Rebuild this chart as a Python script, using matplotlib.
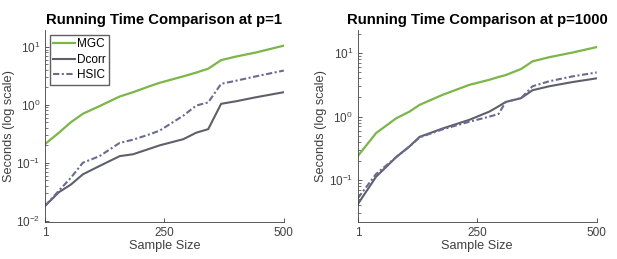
import matplotlib.pyplot as plt

plt.rcParams['font.family'] = ['Liberation Sans', 'DejaVu Sans']

# p=1 data
n1 = [1, 30, 55, 80, 115, 157, 185, 220, 241, 290, 317, 342, 369, 400, 442, 500]
mgc1 = [0.21, 0.33, 0.5, 0.7, 0.95, 1.39, 1.65, 2.1, 2.4, 3.1, 3.6, 4.2, 5.9, 6.8, 8.0, 10.5]
dcorr1 = [0.018, 0.031, 0.042, 0.063, 0.088, 0.13, 0.14, 0.175, 0.2, 0.255, 0.33, 0.38, 1.04, 1.15, 1.35, 1.65]
hsic1 = [0.018, 0.033, 0.055, 0.1, 0.13, 0.22, 0.25, 0.31, 0.36, 0.65, 0.97, 1.1, 2.3, 2.6, 3.1, 3.9]

# p=1000 data
n2 = [1, 39, 81, 109, 130, 178, 234, 276, 295, 310, 342, 366, 401, 450, 500]
mgc2 = [0.24, 0.55, 0.94, 1.2, 1.53, 2.2, 3.16, 3.8, 4.2, 4.5, 5.6, 7.4, 8.6, 10.2, 12.4]
dcorr2 = [0.042, 0.113, 0.23, 0.34, 0.48, 0.65, 0.89, 1.2, 1.45, 1.7, 1.95, 2.6, 3.0, 3.5, 4.0]
hsic2 = [0.052, 0.125, 0.23, 0.34, 0.47, 0.63, 0.83, 1.0, 1.1, 1.7, 1.95, 3.0, 3.6, 4.3, 4.95]

titles = ['Running Time Comparison at p=1', 'Running Time Comparison at p=1000']
ylims = [(0.0095, 19.5), (0.022, 23)]

fig = plt.figure(figsize=(6.17, 2.59), dpi=100)
ax1 = fig.add_axes([0.073, 0.143, 0.387, 0.741])
ax2 = fig.add_axes([0.580, 0.143, 0.387, 0.741])

green = '#7ab648'
gray = '#5f5f6a'
slate = '#6b6b92'

for ax, n, m, d, h, t, yl in [(ax1, n1, mgc1, dcorr1, hsic1, titles[0], ylims[0]),
                              (ax2, n2, mgc2, dcorr2, hsic2, titles[1], ylims[1])]:
    ax.plot(n, m, color=green, lw=1.6, label='MGC')
    ax.plot(n, d, color=gray, lw=1.5, label='Dcorr')
    ax.plot(n, h, color=slate, lw=1.5, ls=(0, (3, 1.2, 1, 1.2)), label='HSIC')
    ax.set_yscale('log')
    ax.set_xlim(1, 500)
    ax.set_ylim(*yl)
    ax.set_xticks([1, 250, 500])
    ax.set_title(t, fontsize=10.7, fontweight='bold', pad=4)
    ax.set_xlabel('Sample Size', fontsize=9.2, color='#404040', labelpad=1)
    ax.set_ylabel('Seconds (log scale)', fontsize=9.2, color='#404040', labelpad=1)
    ax.spines['top'].set_visible(False)
    ax.spines['right'].set_visible(False)
    for s in ['left', 'bottom']:
        ax.spines[s].set_color('#404040')
        ax.spines[s].set_linewidth(0.6)
    ax.tick_params(direction='in', labelsize=8.5, colors='#404040', length=3, width=0.6)
    ax.tick_params(which='minor', direction='in', length=2, width=0.5, colors='#404040')

ax1.legend(loc='upper left', fontsize=8.5, handlelength=1.8, handletextpad=0.2,
           borderpad=0.3, labelspacing=0.3, fancybox=False, edgecolor='#606060',
           framealpha=1, borderaxespad=0.4)

fig.savefig('out.png', dpi=100)
